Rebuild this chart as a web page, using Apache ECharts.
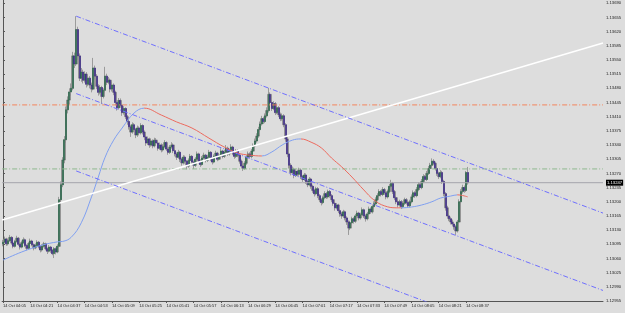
<!DOCTYPE html>
<html><head><meta charset="utf-8">
<script src="https://cdn.jsdelivr.net/npm/echarts@6/dist/echarts.min.js"></script>
<style>html,body{margin:0;padding:0;background:#dddddd}#c{width:625px;height:313px}</style>
</head><body><div id="c"></div><script>
// ---- data ----
const barCount = 353; // visible bar slots (M1), incl. empty chart shift on the right
const tickLabels = ['14 Oct 04:05','14 Oct 04:21','14 Oct 04:37','14 Oct 04:53','14 Oct 05:09','14 Oct 05:25',
  '14 Oct 05:41','14 Oct 05:57','14 Oct 06:13','14 Oct 06:29','14 Oct 06:45','14 Oct 07:01','14 Oct 07:17',
  '14 Oct 07:33','14 Oct 07:49','14 Oct 08:05','14 Oct 08:21','14 Oct 08:37'];
const tickEvery = 16;
const firstOpen = 1.13096; // each later open = previous close
const closes = [
1.13100,1.13108,1.13096,1.13104,1.13112,1.13098,1.13090,1.13102,1.13110,1.13095,
1.13088,1.13099,1.13106,1.13092,1.13085,1.13097,1.13103,1.13094,1.13086,1.13092,
1.13100,1.13089,1.13081,1.13090,1.13096,1.13084,1.13078,1.13088,1.13080,1.13072,
1.13084,1.13076,1.13090,1.13205,1.13242,1.13303,1.13353,1.13427,1.13451,1.13471,
1.13480,1.13560,1.13540,1.13625,1.13560,1.13505,1.13520,1.13500,1.13515,1.13490,
1.13505,1.13488,1.13478,1.13530,1.13510,1.13485,1.13470,1.13482,1.13460,1.13475,
1.13510,1.13495,1.13500,1.13478,1.13488,1.13470,1.13445,1.13432,1.13450,1.13438,
1.13420,1.13430,1.13410,1.13398,1.13385,1.13372,1.13390,1.13378,1.13365,1.13382,
1.13370,1.13388,1.13372,1.13360,1.13345,1.13355,1.13340,1.13350,1.13338,1.13352,
1.13345,1.13332,1.13340,1.13328,1.13336,1.13346,1.13330,1.13322,1.13335,1.13340,
1.13326,1.13318,1.13310,1.13322,1.13305,1.13296,1.13310,1.13300,1.13288,1.13302,
1.13312,1.13298,1.13290,1.13305,1.13318,1.13300,1.13292,1.13308,1.13315,1.13302,
1.13310,1.13322,1.13306,1.13298,1.13312,1.13320,1.13305,1.13315,1.13325,1.13312,
1.13322,1.13332,1.13318,1.13326,1.13335,1.13320,1.13312,1.13325,1.13315,1.13300,
1.13288,1.13282,1.13295,1.13310,1.13318,1.13312,1.13325,1.13338,1.13350,1.13362,
1.13378,1.13392,1.13405,1.13398,1.13412,1.13425,1.13465,1.13445,1.13430,1.13442,
1.13420,1.13432,1.13415,1.13405,1.13412,1.13390,1.13355,1.13318,1.13290,1.13272,
1.13280,1.13265,1.13275,1.13268,1.13278,1.13262,1.13255,1.13266,1.13250,1.13242,
1.13256,1.13238,1.13228,1.13220,1.13232,1.13215,1.13205,1.13198,1.13210,1.13220,
1.13212,1.13225,1.13215,1.13205,1.13196,1.13185,1.13192,1.13178,1.13170,1.13165,
1.13175,1.13160,1.13150,1.13135,1.13148,1.13158,1.13152,1.13165,1.13172,1.13160,
1.13168,1.13180,1.13165,1.13158,1.13170,1.13182,1.13175,1.13188,1.13195,1.13205,
1.13215,1.13225,1.13218,1.13230,1.13222,1.13212,1.13225,1.13238,1.13245,1.13225,
1.13210,1.13200,1.13192,1.13200,1.13188,1.13196,1.13205,1.13198,1.13190,1.13200,
1.13212,1.13222,1.13215,1.13230,1.13242,1.13235,1.13250,1.13262,1.13255,1.13270,
1.13282,1.13290,1.13300,1.13295,1.13282,1.13270,1.13262,1.13272,1.13250,1.13220,
1.13185,1.13165,1.13158,1.13150,1.13145,1.13138,1.13128,1.13150,1.13200,1.13225,
1.13235,1.13228,1.13272,1.13247];
const highs = [
1.13106,1.13114,1.13111,1.13109,1.13118,1.13115,1.13101,1.13106,1.13116,1.13113,
1.13098,1.13104,1.13112,1.13109,1.13095,1.13101,1.13109,1.13106,1.13097,1.13097,
1.13105,1.13103,1.13092,1.13095,1.13101,1.13099,1.13087,1.13093,1.13091,1.13083,
1.13088,1.13087,1.13095,1.13212,1.13250,1.13310,1.13362,1.13435,1.13460,1.13480,
1.13492,1.13570,1.13568,1.13658,1.13632,1.13566,1.13530,1.13526,1.13522,1.13520,
1.13512,1.13510,1.13494,1.13555,1.13536,1.13515,1.13490,1.13488,1.13486,1.13480,
1.13533,1.13516,1.13508,1.13504,1.13495,1.13492,1.13474,1.13450,1.13456,1.13455,
1.13442,1.13436,1.13433,1.13414,1.13402,1.13390,1.13396,1.13394,1.13382,1.13388,
1.13386,1.13394,1.13391,1.13376,1.13364,1.13361,1.13358,1.13356,1.13354,1.13358,
1.13357,1.13349,1.13346,1.13344,1.13342,1.13352,1.13349,1.13334,1.13340,1.13347,
1.13344,1.13330,1.13322,1.13328,1.13325,1.13309,1.13315,1.13314,1.13303,1.13307,
1.13318,1.13315,1.13302,1.13310,1.13324,1.13321,1.13305,1.13313,1.13321,1.13318,
1.13316,1.13328,1.13325,1.13310,1.13317,1.13326,1.13323,1.13320,1.13332,1.13328,
1.13328,1.13340,1.13336,1.13331,1.13342,1.13338,1.13324,1.13330,1.13329,1.13318,
1.13304,1.13292,1.13300,1.13315,1.13324,1.13322,1.13330,1.13344,1.13356,1.13369,
1.13385,1.13398,1.13412,1.13410,1.13418,1.13433,1.13481,1.13470,1.13450,1.13448,
1.13446,1.13438,1.13436,1.13420,1.13418,1.13416,1.13394,1.13360,1.13322,1.13295,
1.13287,1.13284,1.13281,1.13279,1.13284,1.13282,1.13266,1.13271,1.13270,1.13254,
1.13261,1.13259,1.13242,1.13232,1.13237,1.13236,1.13219,1.13209,1.13215,1.13226,
1.13224,1.13230,1.13229,1.13219,1.13209,1.13200,1.13197,1.13195,1.13182,1.13175,
1.13180,1.13178,1.13164,1.13154,1.13153,1.13163,1.13162,1.13170,1.13178,1.13175,
1.13173,1.13186,1.13183,1.13169,1.13175,1.13188,1.13186,1.13193,1.13201,1.13211,
1.13221,1.13231,1.13229,1.13236,1.13234,1.13226,1.13230,1.13244,1.13254,1.13249,
1.13229,1.13214,1.13205,1.13205,1.13204,1.13201,1.13210,1.13209,1.13202,1.13205,
1.13218,1.13228,1.13226,1.13236,1.13248,1.13246,1.13256,1.13268,1.13266,1.13276,
1.13288,1.13296,1.13307,1.13305,1.13299,1.13286,1.13274,1.13278,1.13276,1.13254,
1.13224,1.13190,1.13170,1.13163,1.13156,1.13150,1.13142,1.13155,1.13206,1.13231,
1.13242,1.13240,1.13276,1.13286];
const lows = [
1.13090,1.13097,1.13091,1.13092,1.13101,1.13094,1.13085,1.13087,1.13099,1.13091,
1.13082,1.13085,1.13096,1.13088,1.13080,1.13082,1.13094,1.13090,1.13080,1.13083,
1.13089,1.13085,1.13075,1.13077,1.13087,1.13080,1.13071,1.13075,1.13074,1.13068,
1.13061,1.13070,1.13073,1.13086,1.13198,1.13236,1.13295,1.13345,1.13418,1.13440,
1.13462,1.13475,1.13530,1.13535,1.13550,1.13498,1.13496,1.13492,1.13494,1.13482,
1.13485,1.13480,1.13470,1.13475,1.13502,1.13478,1.13462,1.13465,1.13441,1.13455,
1.13470,1.13488,1.13490,1.13470,1.13472,1.13463,1.13438,1.13425,1.13428,1.13432,
1.13412,1.13415,1.13404,1.13390,1.13378,1.13360,1.13368,1.13372,1.13357,1.13360,
1.13364,1.13366,1.13366,1.13352,1.13338,1.13340,1.13333,1.13336,1.13332,1.13334,
1.13340,1.13326,1.13328,1.13322,1.13324,1.13332,1.13325,1.13316,1.13318,1.13331,
1.13320,1.13312,1.13303,1.13306,1.13298,1.13289,1.13292,1.13294,1.13280,1.13284,
1.13298,1.13292,1.13281,1.13286,1.13301,1.13295,1.13286,1.13289,1.13304,1.13297,
1.13298,1.13306,1.13300,1.13292,1.13295,1.13308,1.13300,1.13302,1.13311,1.13307,
1.13308,1.13318,1.13313,1.13314,1.13322,1.13315,1.13306,1.13308,1.13310,1.13294,
1.13282,1.13276,1.13279,1.13291,1.13306,1.13307,1.13308,1.13321,1.13334,1.13346,
1.13358,1.13373,1.13388,1.13392,1.13394,1.13408,1.13420,1.13438,1.13424,1.13426,
1.13414,1.13416,1.13409,1.13399,1.13400,1.13384,1.13348,1.13310,1.13282,1.13265,
1.13268,1.13258,1.13261,1.13262,1.13264,1.13256,1.13249,1.13251,1.13244,1.13236,
1.13238,1.13232,1.13222,1.13213,1.13216,1.13209,1.13199,1.13191,1.13194,1.13206,
1.13207,1.13208,1.13210,1.13199,1.13190,1.13178,1.13181,1.13172,1.13163,1.13158,
1.13160,1.13154,1.13143,1.13118,1.13130,1.13144,1.13146,1.13148,1.13161,1.13154,
1.13156,1.13164,1.13160,1.13151,1.13154,1.13166,1.13170,1.13171,1.13184,1.13191,
1.13201,1.13211,1.13213,1.13214,1.13217,1.13206,1.13208,1.13221,1.13234,1.13219,
1.13204,1.13194,1.13186,1.13188,1.13182,1.13184,1.13192,1.13193,1.13185,1.13186,
1.13196,1.13208,1.13210,1.13211,1.13226,1.13230,1.13231,1.13246,1.13250,1.13251,
1.13266,1.13278,1.13286,1.13290,1.13277,1.13264,1.13256,1.13258,1.13244,1.13214,
1.13178,1.13158,1.13152,1.13144,1.13139,1.13131,1.13118,1.13124,1.13146,1.13196,
1.13220,1.13222,1.13224,1.13242];
// moving average (two-colour by slope): bar index and value
const maIndex = [0,11,23,32,35,40,46,52,56,60,65,70,77,83,93,102,111,121,130,138,145,152,158,164,170,175,181,187,193,199,205,212,218,224,231,234,240,246,252,257,263,267,273];
const maValues = [1.13056,1.13076,1.13093,1.13101,1.13102,1.13112,1.13148,1.13212,1.13261,1.13310,1.13352,1.13382,1.13419,1.13431,1.13414,1.13397,1.13382,1.13357,1.13335,1.13320,1.13315,1.13313,1.13323,1.13340,1.13352,1.13355,1.13347,1.13333,1.13308,1.13286,1.13261,1.13229,1.13204,1.13190,1.13185,1.13185,1.13187,1.13192,1.13200,1.13209,1.13214,1.13217,1.13212];
const maTurns = [83,152,175,234,267]; // colour flips (blue rising / red falling)
// drawn objects (bar index, price)
const trendWhite = [[-0.5,1.13155],[352.5,1.13592]];
const channelTop = [[43,1.13658],[352.5,1.13172]];
const channelMid = [[43,1.13467],[352.5,1.12981]];
const channelLow = [[43,1.13276],[352.5,1.12790]];
const levelOrange = 1.13439;
const levelGreen = 1.13281;
const bidPrice = 1.13247;
const yMin = 1.12955, yStep = 0.00035;

// ---- build ----
const cats = [];
for (let i = 0; i < barCount; i++) cats.push(String(i));
const ohlc = [], bodies = [];
for (let i = 0; i < closes.length; i++) {
  const o = i === 0 ? firstOpen : closes[i - 1], c = closes[i];
  ohlc.push([o, c, lows[i], highs[i]]);
  bodies.push([o, c, Math.min(o, c), Math.max(o, c)]);
}
const maData = maIndex.map((x, k) => [x, maValues[k]]);
const BLUE = '#7f9ff0', RED = '#ec6a5e';
const pieces = [];
let prev = -Infinity, up = true;
maTurns.concat([Infinity]).forEach(t => { pieces.push({gte: prev, lt: t, color: up ? BLUE : RED}); prev = t; up = !up; });
const showTick = idx => idx % tickEvery === 0 && idx / tickEvery < tickLabels.length;
const font = 'Liberation Sans, Arial, sans-serif';
const dashDot = [5, 2, 1, 2];
const hLine = (price, color) => ({type: 'line', xAxisIndex: 1, showSymbol: false, silent: true,
  data: [[-0.5, price], [barCount - 0.5, price]], lineStyle: {color: color, width: 1, type: dashDot}});

const chart = echarts.init(document.getElementById('c'), null, {renderer: 'canvas'});
chart.setOption({
  animation: false,
  backgroundColor: '#dddddd',
  grid: {left: 0, right: 22, top: 0, bottom: 12, containLabel: false},
  xAxis: [{
    type: 'category', data: cats, boundaryGap: true,
    axisLine: {show: true, lineStyle: {color: '#555', width: 1}},
    axisTick: {show: true, alignWithLabel: true, interval: showTick, length: 2, lineStyle: {color: '#555'}},
    axisLabel: {show: true, interval: showTick, align: 'left', margin: 3, fontSize: 4, fontFamily: font, color: '#222',
      formatter: (v, idx) => showTick(idx) ? tickLabels[idx / tickEvery] : ''},
    splitLine: {show: false}
  }, {
    type: 'value', min: -0.5, max: barCount - 0.5, show: false
  }],
  yAxis: {
    type: 'value', position: 'right', min: yMin, max: yMin + 301 / (14.18 / yStep), interval: yStep, scale: true,
    axisLine: {show: true, lineStyle: {color: '#555', width: 1}},
    axisTick: {show: true, length: 2, lineStyle: {color: '#555'}},
    axisLabel: {fontSize: 4.2, fontFamily: font, color: '#222', margin: 3, showMaxLabel: false, showMinLabel: true,
      formatter: v => v.toFixed(5)},
    splitLine: {show: false}
  },
  visualMap: {show: false, type: 'piecewise', seriesIndex: 5, dimension: 0, pieces: pieces},
  series: [
    hLine(levelOrange, '#f4845c'),
    hLine(levelGreen, '#8fb98f'),
    {type: 'line', xAxisIndex: 1, showSymbol: false, silent: true, data: [[-0.5, bidPrice], [barCount - 0.5, bidPrice]],
      lineStyle: {color: '#a4a4ac', width: 1},
      endLabel: {show: true, formatter: bidPrice.toFixed(5), backgroundColor: '#000', color: '#fff', fontSize: 4.2,
        fontFamily: font, padding: [1, 1, 1, 1], distance: 3}},
    {type: 'candlestick', name: 'shadow', xAxisIndex: 0, data: ohlc, barWidth: 2.2,
      itemStyle: {color: '#a0a0a0', color0: '#a0a0a0', borderColor: '#8a8a8a', borderColor0: '#8a8a8a', borderWidth: 0.8}},
    {type: 'candlestick', name: 'body', xAxisIndex: 0, data: bodies, barWidth: 1.5,
      itemStyle: {color: '#276648', color0: '#3b2689', borderColor: '#276648', borderColor0: '#3b2689', borderWidth: 0.5}},
    {type: 'line', name: 'MA', xAxisIndex: 1, data: maData, smooth: 0.4, showSymbol: false, lineStyle: {width: 1}},
    {type: 'line', xAxisIndex: 1, data: trendWhite, showSymbol: false, lineStyle: {color: '#ffffff', width: 1.5}},
    {type: 'line', xAxisIndex: 1, data: channelTop, showSymbol: false, lineStyle: {color: '#6f6fff', width: 1, type: dashDot}},
    {type: 'line', xAxisIndex: 1, data: channelMid, showSymbol: false, lineStyle: {color: '#6f6fff', width: 1, type: dashDot}},
    {type: 'line', xAxisIndex: 1, data: channelLow, showSymbol: false, lineStyle: {color: '#6f6fff', width: 1, type: dashDot}}
  ]
});
</script></body></html>
